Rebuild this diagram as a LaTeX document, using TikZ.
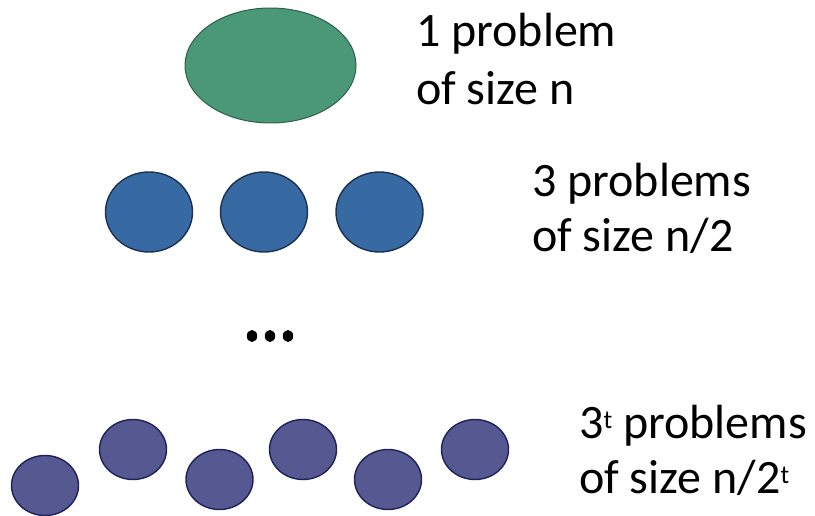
\documentclass[tikz,border=0pt]{standalone}
\usepackage{fontspec}
\setmainfont{Carlito}
\newcommand{\supt}{\raisebox{10pt}{\fontsize{26}{30}\selectfont t}}
\begin{document}
\begin{tikzpicture}[x=1pt,y=-1pt,
  greenblob/.style={fill={rgb,255:red,74;green,152;blue,120}, draw={rgb,255:red,44;green,96;blue,74}, line width=1pt},
  blueblob/.style={fill={rgb,255:red,55;green,105;blue,162}, draw={rgb,255:red,28;green,48;blue,82}, line width=1.4pt},
  purpleblob/.style={fill={rgb,255:red,86;green,88;blue,145}, draw={rgb,255:red,30;green,34;blue,88}, line width=1.4pt},
  label/.style={anchor=base west, inner sep=0pt, font=\fontsize{48}{56}\selectfont}
]
\useasboundingbox (0,0) rectangle (815,516);

% level 0: the original problem
\draw[greenblob] (270.5,65.5) ellipse [x radius=85.5, y radius=57.5];
\node[label] (l0a) at (416,47) {1 problem};
\node[label] (l0b) at (416,105) {of size n};

% level 1: three subproblems
\foreach \cx in {149, 264, 379.5}
  \draw[blueblob] (\cx,212) ellipse [x radius=43.5, y radius=40];
\node[label] (l1a) at (532,197) {3 problems};
\node[label] (l1b) at (532,252) {of size n/2};

% ellipsis between levels
\foreach \dx in {252,270,288}
  \fill (\dx,336) ellipse [x radius=5.2, y radius=6];

% level t: the leaves
\foreach \cx/\cy in {45/485.5, 133/449.5, 219.5/479.5, 303/449.5, 388/479.5, 475/449.5}
  \draw[purpleblob] (\cx,\cy) ellipse [x radius=33.5, y radius=30];
\node[label] (l2a) at (579,438) {3\supt{} problems};
\node[label] (l2b) at (579,493) {of size n/2\supt};
\end{tikzpicture}
\end{document}
